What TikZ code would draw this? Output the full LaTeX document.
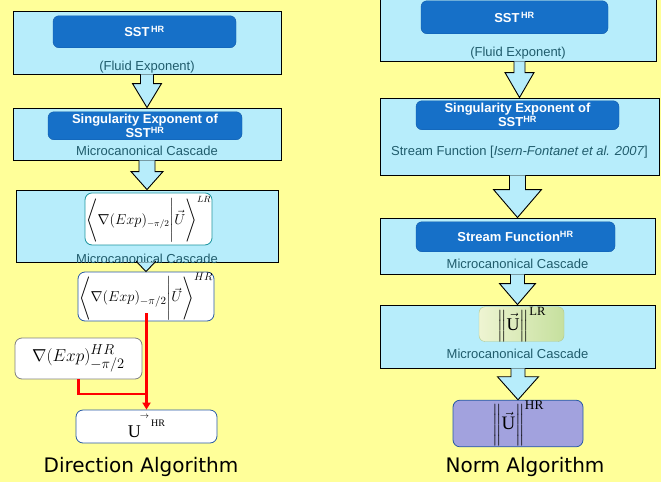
\documentclass[tikz,border=0pt]{standalone}
\usepackage{amsmath}
\usepackage{fontspec}
\setmainfont{Liberation Serif}
\newfontfamily\arialfont{Liberation Sans}
\newfontfamily\handfont{DejaVu Sans}
\usetikzlibrary{arrows.meta,positioning,calc}

\definecolor{bgyellow}{RGB}{255,255,153}
\definecolor{paleblue}{RGB}{183,237,251}
\definecolor{deepblue}{RGB}{22,112,200}
\definecolor{deepline}{RGB}{16,90,170}
\definecolor{tealtext}{RGB}{32,92,108}
\definecolor{tealline}{RGB}{30,150,160}
\definecolor{boxline}{RGB}{40,90,165}
\definecolor{lilac}{RGB}{162,162,222}
\definecolor{paleleft}{RGB}{238,244,210}
\definecolor{paleright}{RGB}{198,224,158}
\definecolor{greenline}{RGB}{178,200,140}

% hollow block arrow: from, to, shaft half width, head half width, head length
\newcommand{\bigarrow}[5]{%
  \filldraw[bigarr] let \p1=(#1.south), \p2=(#2.north) in
    (\x2-#3pt,\y1) -- (\x2-#3pt,\y2+#5pt) -- (\x2-#4pt,\y2+#5pt) -- (\x2,\y2)
    -- (\x2+#4pt,\y2+#5pt) -- (\x2+#3pt,\y2+#5pt) -- (\x2+#3pt,\y1);}

\begin{document}
\begin{tikzpicture}[x=1pt, y=-1pt,
  panel/.style={draw=black, line width=0.9pt, fill=paleblue, inner sep=0pt},
  darkbox/.style={draw=deepline, fill=deepblue, rounded corners=6pt, inner sep=1pt, align=center, text=white, font=\arialfont\bfseries\fontsize{13}{14}\selectfont},
  caption/.style={text=tealtext, inner sep=1pt, font=\arialfont\fontsize{13}{15}\selectfont},
  formbox/.style={draw=boxline, fill=white, rounded corners=7pt, line width=0.8pt, inner sep=1pt},
  bigarr/.style={draw=black, line width=0.9pt, fill=paleblue},
  redline/.style={draw=red, line width=2.2pt},
  title/.style={font=\handfont\fontsize{20}{24}\selectfont}
]
\fill[bgyellow] (0,0) rectangle (661,482);
\useasboundingbox (0,0) rectangle (661,482);

\node[panel, minimum width=268pt, minimum height=63pt] (sstL) at (147,42.5) {};
\node[darkbox, minimum width=183pt, minimum height=32pt, below=5pt of sstL.north, xshift=-2.5pt] (sstLin) {SST\textsuperscript{\,HR}};
\node[caption, above=0pt of sstL.south] (fluidL) {(Fluid Exponent)};

\node[panel, minimum width=268pt, minimum height=52pt] (singL) at (147,134) {};
\node[darkbox, minimum width=194pt, minimum height=28pt, below=4pt of singL.north, xshift=-2pt] (singLin) {Singularity Exponent of\\SST\textsuperscript{HR}};
\node[caption, above=4pt of singL.south] (cascL1) {Microcanonical Cascade};

\node[panel, minimum width=262pt, minimum height=72pt] (gradL) at (147,226) {};
\node[formbox, draw=tealline, minimum width=127pt, minimum height=52pt, below=3pt of gradL.north, xshift=1.5pt] (projLR) {\fontsize{13.5}{15}\selectfont$\Bigg\langle\nabla(Exp)_{-\pi/2}\Bigg|\vec{U}\Bigg\rangle^{LR}$};
\node[caption, above=-2pt of gradL.south] (cascL2) {Microcanonical Cascade};

\node[formbox, minimum width=136pt, minimum height=49pt] (projHR) at (146,296.5) {\fontsize{15}{16}\selectfont$\Bigg\langle\nabla(Exp)_{-\pi/2}\Bigg|\vec{U}\Bigg\rangle^{HR}$};
\node[formbox, draw=gray, minimum width=127pt, minimum height=41pt] (gradHR) at (78.5,358.5) {\fontsize{19}{21}\selectfont$\nabla(Exp)^{HR}_{-\pi/2}$};
\node[formbox, minimum width=141pt, minimum height=33pt] (uHR) at (146.5,426.5) {\fontsize{18}{20}\selectfont U\hspace{-1pt}\raisebox{19pt}{\fontsize{9}{9}\selectfont$\rightarrow$}\hspace{2pt}\raisebox{11pt}{\fontsize{10}{10}\selectfont HR}};
\node[title] (dirtitle) at (141,467) {Direction Algorithm};

\node[panel, minimum width=276pt, minimum height=64pt] (sstR) at (518,29) {};
\node[darkbox, minimum width=187pt, minimum height=33pt, below=4pt of sstR.north, xshift=-3.5pt] (sstRin) {SST\textsuperscript{\,HR}};
\node[caption, above=1pt of sstR.south] (fluidR) {(Fluid Exponent)};

\node[panel, minimum width=279pt, minimum height=77pt] (singR) at (519.5,136.5) {};
\node[darkbox, minimum width=203pt, minimum height=29pt, below=3pt of singR.north, xshift=-2pt] (singRin) {Singularity Exponent of\\SST\textsuperscript{HR}};
\node[caption, above=16pt of singR.south] (streamR) {Stream Function [\textit{Isern-Fontanet et al. 2007}]};

\node[panel, minimum width=275pt, minimum height=56pt] (streamP) at (517.5,246) {};
\node[darkbox, minimum width=199pt, minimum height=30pt, below=4pt of streamP.north, xshift=-2pt] (streamin) {Stream Function\textsuperscript{HR}};
\node[caption, above=5pt of streamP.south] (cascR1) {Microcanonical Cascade};

\node[panel, minimum width=275pt, minimum height=63pt] (normP) at (517.5,336.5) {};
\node[draw=greenline, left color=paleleft, right color=paleright, rounded corners=6pt, minimum width=85pt, minimum height=33pt, inner sep=0pt, below=2pt of normP.north, xshift=4pt] (normLR) {\fontsize{18}{20}\selectfont$\Big\|\vec{\mathrm{U}}\Big\|^{\mathrm{LR}}$};
\node[caption, above=9pt of normP.south] (cascR2) {Microcanonical Cascade};

\node[formbox, fill=lilac, minimum width=130pt, minimum height=43pt] (normHR) at (518,423.5) {\fontsize{19}{21}\selectfont$\bigg\|\vec{\mathrm{U}}\bigg\|^{\mathrm{HR}}$};
\node[title] (normtitle) at (525,467) {Norm Algorithm};

\bigarrow{sstL}{singL}{6.5}{14.5}{24}
\bigarrow{singL}{gradL}{8}{16}{18}
\bigarrow{gradL}{projHR}{9.5}{9.5}{10}
\bigarrow{sstR}{singR}{5.5}{14.5}{25}
\bigarrow{singR}{streamP}{8}{24}{28}
\bigarrow{streamP}{normP}{7}{18}{21}
\bigarrow{normP}{normHR}{7}{20.5}{23}

\draw[redline, -{Triangle[width=8pt,length=7pt]}] ([yshift=8pt]projHR.south -| uHR.north) -- (uHR.north);
\draw[redline] (gradHR.south) |- ([yshift=16pt]uHR.north);
\end{tikzpicture}
\end{document}
